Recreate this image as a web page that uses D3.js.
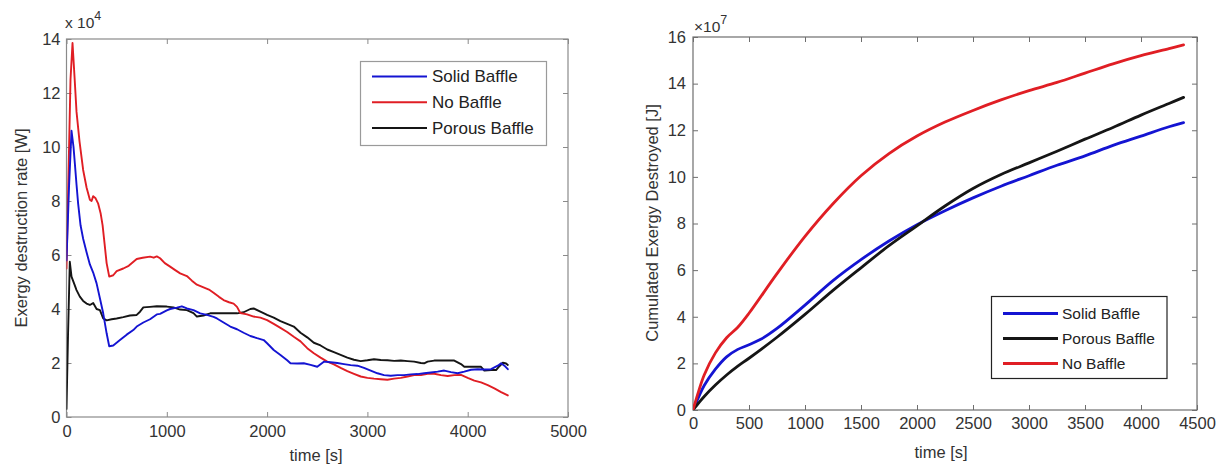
<!DOCTYPE html>
<html>
<head>
<meta charset="utf-8">
<script src="https://cdn.jsdelivr.net/npm/d3@7"></script>
<style>
  html, body { margin: 0; padding: 0; background: #fff; }
  svg { display: block; font-family: "Liberation Sans", Arial, sans-serif; }
</style>
</head>
<body>
<svg id="chart" width="1224" height="472"></svg>
<script>
// ---- Exergy destruction rate [W] (×10^4) vs time [s] ----
const rateSolid = [[0,5.8],[25,8.5],[50,10.6],[70,10.0],[83,9.4],[100,8.6],[116,7.9],[140,7.1],[166,6.6],[200,6.1],[233,5.65],[266,5.35],[300,4.95],[333,4.4],[366,3.84],[400,3.1],[426,2.62],[466,2.65],[533,2.85],[600,3.05],[666,3.22],[700,3.35],[766,3.5],[833,3.62],[900,3.8],[933,3.82],[1000,3.95],[1033,4.0],[1100,4.05],[1150,4.1],[1200,4.02],[1266,3.96],[1333,3.84],[1400,3.78],[1466,3.71],[1500,3.65],[1566,3.5],[1633,3.35],[1700,3.25],[1766,3.12],[1833,3.0],[1900,2.92],[1966,2.85],[2000,2.73],[2066,2.48],[2133,2.3],[2200,2.1],[2233,1.99],[2300,1.98],[2366,1.99],[2433,1.93],[2500,1.86],[2566,2.05],[2633,2.03],[2700,2.0],[2766,1.96],[2833,1.92],[2900,1.9],[2966,1.82],[3033,1.72],[3100,1.62],[3166,1.55],[3233,1.53],[3300,1.55],[3366,1.55],[3433,1.58],[3500,1.59],[3566,1.62],[3633,1.65],[3700,1.68],[3766,1.72],[3833,1.66],[3900,1.62],[3966,1.68],[4033,1.75],[4100,1.77],[4166,1.76],[4233,1.77],[4300,1.9],[4333,1.99],[4366,1.9],[4400,1.77]];
const rateNone = [[0,5.5],[20,9.0],[40,12.5],[60,13.85],[80,12.6],[100,11.3],[130,10.2],[166,9.15],[200,8.5],[233,8.05],[250,8.0],[266,8.18],[290,8.1],[316,7.9],[340,7.55],[360,7.1],[380,6.4],[400,5.7],[426,5.2],[466,5.25],[500,5.4],[566,5.5],[620,5.6],[700,5.85],[760,5.9],[833,5.94],[870,5.9],[900,5.95],[933,5.88],[980,5.7],[1033,5.57],[1080,5.45],[1133,5.32],[1200,5.22],[1250,5.05],[1300,4.9],[1366,4.8],[1420,4.72],[1466,4.6],[1520,4.45],[1566,4.33],[1620,4.25],[1666,4.2],[1700,4.08],[1733,3.85],[1800,3.8],[1866,3.72],[1933,3.68],[2000,3.59],[2066,3.45],[2133,3.3],[2200,3.15],[2266,2.97],[2333,2.8],[2400,2.55],[2466,2.36],[2533,2.2],[2600,2.05],[2666,1.95],[2733,1.82],[2800,1.7],[2866,1.6],[2933,1.5],[3000,1.45],[3066,1.42],[3133,1.4],[3200,1.38],[3266,1.42],[3333,1.45],[3400,1.5],[3466,1.55],[3533,1.55],[3600,1.6],[3666,1.6],[3733,1.55],[3800,1.52],[3866,1.55],[3933,1.56],[4000,1.45],[4066,1.35],[4133,1.28],[4200,1.18],[4266,1.06],[4333,0.92],[4400,0.8]];
const ratePorous = [[0,0.3],[15,3.0],[33,5.75],[50,5.2],[80,4.9],[100,4.7],[133,4.46],[166,4.3],[200,4.2],[233,4.15],[266,4.22],[300,4.0],[333,3.96],[366,3.65],[400,3.58],[450,3.62],[500,3.65],[566,3.7],[633,3.76],[700,3.78],[733,3.9],[766,4.06],[833,4.08],[900,4.1],[1000,4.09],[1066,4.06],[1133,3.98],[1200,3.96],[1266,3.85],[1300,3.72],[1366,3.76],[1433,3.84],[1500,3.84],[1566,3.84],[1633,3.84],[1700,3.84],[1766,3.88],[1833,4.0],[1866,4.02],[1933,3.9],[2000,3.78],[2066,3.68],[2133,3.55],[2200,3.45],[2266,3.35],[2333,3.12],[2400,2.95],[2466,2.75],[2533,2.65],[2600,2.5],[2666,2.4],[2733,2.3],[2800,2.2],[2866,2.12],[2933,2.07],[3000,2.1],[3066,2.14],[3133,2.11],[3200,2.1],[3266,2.08],[3333,2.09],[3400,2.07],[3466,2.05],[3533,2.0],[3566,1.99],[3600,2.05],[3666,2.09],[3733,2.09],[3800,2.09],[3866,2.09],[3933,1.96],[3966,1.86],[4033,1.86],[4100,1.86],[4133,1.86],[4166,1.72],[4233,1.74],[4283,1.74],[4316,1.88],[4350,2.01],[4383,1.98],[4400,1.93]];

// ---- Cumulated exergy destroyed [J] (×10^7) vs time [s] ----
const cumSolid = [[0,0],[50,0.55],[100,1.05],[200,1.75],[300,2.28],[400,2.6],[500,2.8],[600,3.02],[750,3.5],[1000,4.5],[1250,5.55],[1500,6.45],[1750,7.25],[2000,7.95],[2250,8.55],[2500,9.1],[2750,9.6],[3000,10.05],[3250,10.5],[3500,10.9],[3750,11.35],[4000,11.75],[4250,12.15],[4380,12.33]];
const cumPorous = [[0,0],[50,0.3],[100,0.58],[200,1.07],[300,1.5],[400,1.88],[500,2.22],[750,3.12],[1000,4.1],[1250,5.13],[1500,6.1],[1750,7.05],[2000,7.9],[2250,8.75],[2500,9.5],[2750,10.1],[3000,10.6],[3250,11.1],[3500,11.62],[3750,12.12],[4000,12.65],[4250,13.15],[4380,13.41]];
const cumNone = [[0,0],[50,0.8],[100,1.5],[200,2.45],[300,3.1],[400,3.55],[500,4.15],[750,5.85],[1000,7.45],[1250,8.85],[1500,10.05],[1750,11.0],[2000,11.75],[2250,12.35],[2500,12.85],[2750,13.3],[3000,13.7],[3250,14.05],[3500,14.45],[3750,14.85],[4000,15.2],[4250,15.5],[4380,15.66]];

// tick values
const rateXTicks = [0, 1000, 2000, 3000, 4000, 5000];
const rateYTicks = [0, 2, 4, 6, 8, 10, 12, 14];
const cumXTicks = [0, 500, 1000, 1500, 2000, 2500, 3000, 3500, 4000, 4500];
const cumYTicks = [0, 2, 4, 6, 8, 10, 12, 14, 16];

// legend entries in display order
const rateLegend = [
  { name: "Solid Baffle", color: "#1414d2" },
  { name: "No Baffle", color: "#e01e24" },
  { name: "Porous Baffle", color: "#151515" }
];
const cumLegend = [
  { name: "Solid Baffle", color: "#1414d2" },
  { name: "Porous Baffle", color: "#151515" },
  { name: "No Baffle", color: "#e01e24" }
];

const svg = d3.select("#chart");
const plainInt = d3.format("d");

function drawPanel(cfg) {
  const g = svg.append("g");
  const x = d3.scaleLinear().domain(cfg.xDomain).range([cfg.left, cfg.right]);
  const y = d3.scaleLinear().domain(cfg.yDomain).range([cfg.bottom, cfg.top]);
  const tl = 5;

  // bottom axis (ticks pointing inward)
  const bx = g.append("g").attr("transform", `translate(0,${cfg.bottom})`)
    .call(d3.axisBottom(x).tickValues(cfg.xTicks).tickFormat(plainInt)
      .tickSizeInner(-tl).tickSizeOuter(0).tickPadding(tl + cfg.xPad));
  // top axis (ticks only)
  const tx = g.append("g").attr("transform", `translate(0,${cfg.top})`)
    .call(d3.axisTop(x).tickValues(cfg.xTicks).tickSizeInner(-tl).tickSizeOuter(0).tickFormat(""));
  // left axis
  const ly = g.append("g").attr("transform", `translate(${cfg.left},0)`)
    .call(d3.axisLeft(y).tickValues(cfg.yTicks).tickFormat(plainInt)
      .tickSizeInner(-tl).tickSizeOuter(0).tickPadding(tl + cfg.yPad));
  // right axis (ticks only)
  const ry = g.append("g").attr("transform", `translate(${cfg.right},0)`)
    .call(d3.axisRight(y).tickValues(cfg.yTicks).tickSizeInner(-tl).tickSizeOuter(0).tickFormat(""));

  [bx, tx, ly, ry].forEach(a => {
    a.select(".domain").remove();
    a.selectAll(".tick line").attr("stroke", cfg.axisColor).attr("stroke-width", 1);
    a.selectAll(".tick text").attr("fill", "#333").style("font-size", cfg.tickFont + "px")
      .style("font-family", '"Liberation Sans", Arial, sans-serif');
  });

  // frame
  g.append("rect")
    .attr("x", cfg.left).attr("y", cfg.top)
    .attr("width", cfg.right - cfg.left).attr("height", cfg.bottom - cfg.top)
    .attr("fill", "none").attr("stroke", cfg.axisColor).attr("stroke-width", 1.2);

  // data lines
  const line = d3.line().x(d => x(d[0])).y(d => y(d[1])).curve(cfg.curve);
  const clipId = "clip" + cfg.id;
  g.append("clipPath").attr("id", clipId).append("rect")
    .attr("x", cfg.left).attr("y", cfg.top - 2)
    .attr("width", cfg.right - cfg.left).attr("height", cfg.bottom - cfg.top + 2);
  cfg.series.forEach(s => {
    g.append("path").datum(s.data)
      .attr("clip-path", `url(#${clipId})`)
      .attr("fill", "none").attr("stroke", s.color)
      .attr("stroke-width", cfg.lineWidth)
      .attr("stroke-linejoin", "round").attr("stroke-linecap", "round")
      .attr("d", line);
  });

  // exponent label above the y axis
  const ex = g.append("text").attr("x", cfg.expX).attr("y", cfg.expY)
    .attr("fill", "#333").style("font-size", cfg.expFont + "px");
  ex.append("tspan").text(cfg.expPrefix);
  ex.append("tspan").attr("dy", -8).style("font-size", (cfg.expFont - 3) + "px").text(cfg.expPower);

  // axis titles
  g.append("text").attr("x", cfg.xLabelX).attr("y", cfg.xLabelY)
    .attr("text-anchor", "middle").attr("fill", "#333")
    .style("font-size", cfg.labelFont + "px").text("time [s]");
  g.append("text")
    .attr("transform", `translate(${cfg.yLabelX},${cfg.yLabelY}) rotate(-90)`)
    .attr("text-anchor", "middle").attr("dominant-baseline", "central").attr("fill", "#333")
    .style("font-size", cfg.labelFont + "px").text(cfg.yLabel);

  // legend
  const L = cfg.legend;
  const lg = g.append("g");
  lg.append("rect").attr("x", L.x0).attr("y", L.y0)
    .attr("width", L.x1 - L.x0).attr("height", L.y1 - L.y0)
    .attr("fill", "#fff").attr("stroke", L.border).attr("stroke-width", 1.2);
  L.items.forEach((it, i) => {
    const yy = L.rowY + i * L.rowGap;
    lg.append("line").attr("x1", L.lineX0).attr("x2", L.lineX1)
      .attr("y1", yy).attr("y2", yy)
      .attr("stroke", it.color).attr("stroke-width", L.lineWidth);
    lg.append("text").attr("x", L.textX).attr("y", yy)
      .attr("dominant-baseline", "central").attr("fill", "#222")
      .style("font-size", L.font + "px").text(it.name);
  });
}

drawPanel({
  id: "rate",
  left: 66.5, right: 568, top: 39, bottom: 417,
  xDomain: [0, 5000], yDomain: [0, 14],
  xTicks: rateXTicks, yTicks: rateYTicks,
  xPad: 3, yPad: 1,
  axisColor: "#8a8a8a", tickFont: 16.5,
  curve: d3.curveLinear, lineWidth: 1.9,
  series: [
    { data: ratePorous, color: "#151515" },
    { data: rateNone, color: "#e01e24" },
    { data: rateSolid, color: "#1414d2" }
  ],
  expX: 65, expY: 28, expFont: 15.5, expPrefix: "x 10", expPower: "4",
  xLabelX: 316, xLabelY: 461, labelFont: 16.5,
  yLabelX: 21, yLabelY: 228, yLabel: "Exergy destruction rate [W]",
  legend: {
    x0: 360.5, y0: 61.5, x1: 546.5, y1: 145.5, border: "#9a9a9a",
    lineX0: 372, lineX1: 427, textX: 432, rowY: 76.5, rowGap: 25.8,
    lineWidth: 2, font: 17, items: rateLegend
  }
});

drawPanel({
  id: "cum",
  left: 693, right: 1197, top: 37, bottom: 410,
  xDomain: [0, 4500], yDomain: [0, 16],
  xTicks: cumXTicks, yTicks: cumYTicks,
  xPad: 2, yPad: 2,
  axisColor: "#6e6e6e", tickFont: 16.5,
  curve: d3.curveCatmullRom.alpha(0.5), lineWidth: 2.8,
  series: [
    { data: cumSolid, color: "#1414d2" },
    { data: cumPorous, color: "#151515" },
    { data: cumNone, color: "#e01e24" }
  ],
  expX: 694, expY: 32, expFont: 15.5, expPrefix: "\u00d710", expPower: "7",
  xLabelX: 941, xLabelY: 458, labelFont: 16.5,
  yLabelX: 652, yLabelY: 223, yLabel: "Cumulated Exergy Destroyed [J]",
  legend: {
    x0: 991.5, y0: 296.5, x1: 1167, y1: 378.5, border: "#222",
    lineX0: 1003, lineX1: 1058, textX: 1062, rowY: 313.5, rowGap: 25,
    lineWidth: 2.8, font: 15.5, items: cumLegend
  }
});
</script>
</body>
</html>
